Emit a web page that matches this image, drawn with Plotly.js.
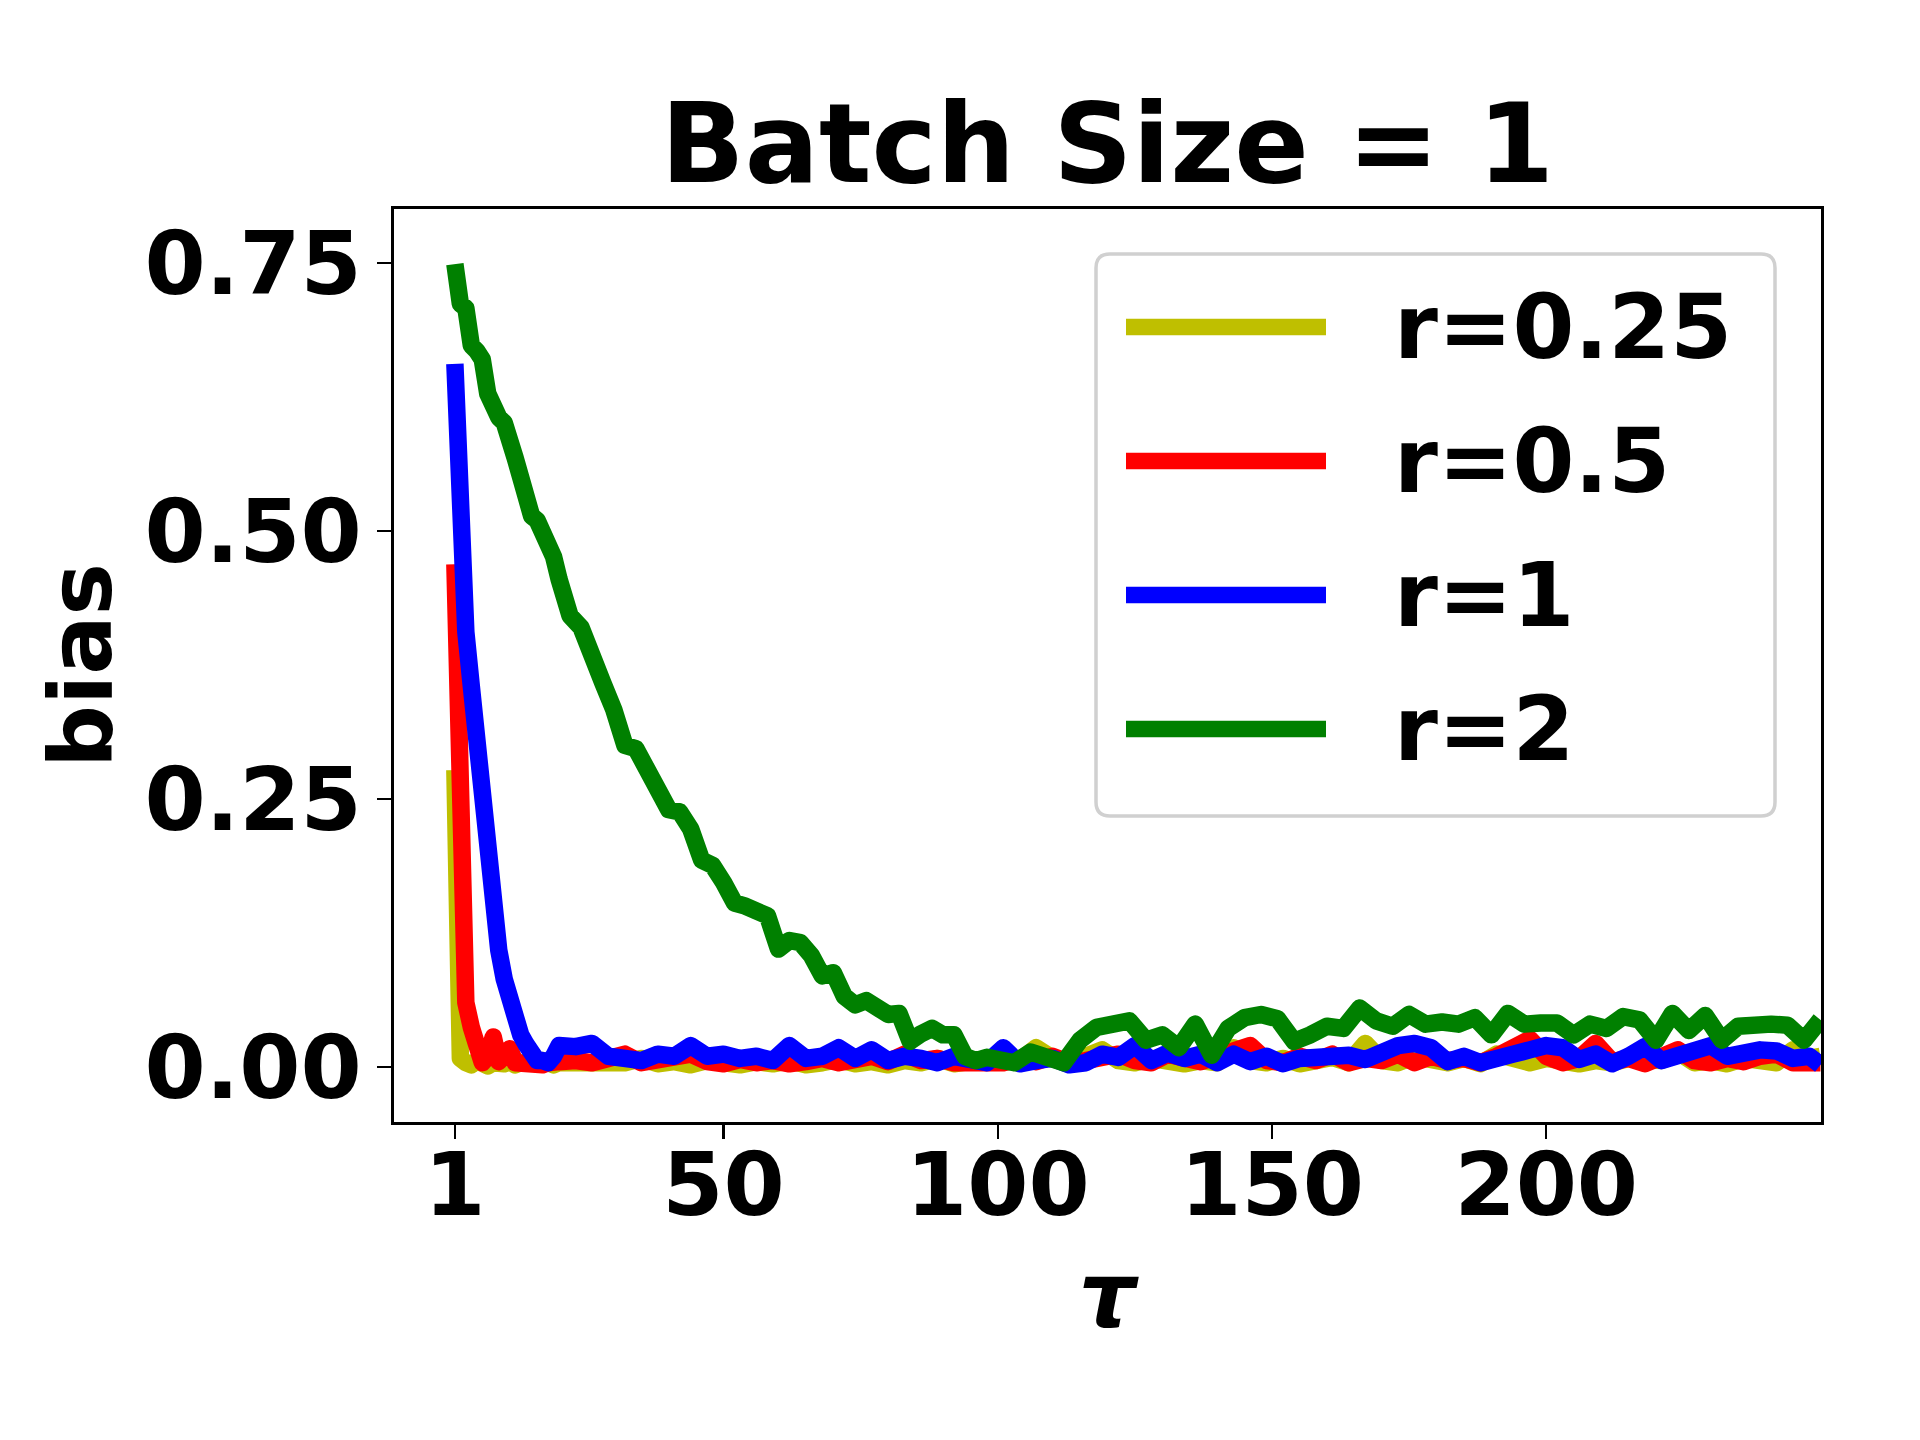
<!DOCTYPE html>
<html>
<head>
<meta charset="utf-8">
<script src="https://cdn.plot.ly/plotly-3.0.1.min.js"></script>
<style>
  html, body { margin: 0; padding: 0; background: #fff; }
  #chart { width: 1920px; height: 1440px; }
  #chart .scatterlayer path.js-line { stroke-linejoin: round; }
</style>
</head>
<body>
<div id="chart"></div>
<script>
(function(){
  // --------- Data ---------
  // shared tau grid for r=0.25, r=0.5, r=1
  const tau = [
    1, 2, 3, 4, 5, 6, 7, 8, 9, 10, 11, 12, 13, 14, 15, 16, 17, 18, 19, 20,
    23, 26, 29, 32, 35, 38, 41, 44, 47, 50,
    53, 56, 59, 62, 65, 68, 71, 74, 77, 80,
    83, 86, 89, 92, 95, 98, 101, 104, 107, 110,
    113, 116, 119, 122, 125, 128, 131, 134, 137, 140,
    143, 146, 149, 152, 155, 158, 161, 164, 167, 170,
    173, 176, 179, 182, 185, 188, 191, 194, 197, 200,
    203, 206, 209, 212, 215, 218, 221, 224, 227, 230,
    233, 236, 239, 242, 245, 248,
    250
  ];

  // finer tau grid for r=2 (its slow decay shows more detail)
  const tauR2 = [
    1, 2, 3, 4, 5, 6, 7, 8, 9, 10, 11, 12, 13, 14, 15, 16, 17, 18, 19, 20,
    22, 24, 26, 28, 30, 32, 34, 36, 38, 40,
    42, 44, 46, 48, 50, 52, 54, 56, 58, 60,
    62, 64, 66, 68, 70, 72, 74, 76, 78, 80,
    82, 84, 86, 88, 90, 92, 94, 96, 98, 100,
    103, 106, 109, 112, 115, 118, 121, 124, 127, 130,
    133, 136, 139, 142, 145, 148, 151, 154, 157, 160,
    163, 166, 169, 172, 175, 178, 181, 184, 187, 190,
    193, 196, 199, 202, 205, 208, 211, 214, 217, 220,
    223, 226, 229, 232, 235, 238, 241, 244, 247, 250
  ];

  const biasR025 = [
    0.277, 0.008, 0.004, 0.002, 0.006, 0.003, 0.001, 0.004, 0.002, 0.003,
    0.005, 0.002, 0.004, 0.003, 0.002, 0.004, 0.006, 0.003, 0.002, 0.004,
    0.003, 0.006, 0.002, 0.004, 0.008, 0.003, 0.005, 0.002, 0.006, 0.004,
    0.002, 0.005, 0.003, 0.006, 0.002, 0.004, 0.007, 0.003, 0.005, 0.002,
    0.006, 0.004, 0.008, 0.003, 0.005, 0.008, 0.010, 0.006, 0.018, 0.008,
    0.004, 0.010, 0.016, 0.006, 0.004, 0.008, 0.005, 0.003, 0.006, 0.004,
    0.018, 0.006, 0.004, 0.008, 0.003, 0.005, 0.009, 0.004, 0.022, 0.006,
    0.004, 0.010, 0.006, 0.004, 0.008, 0.003, 0.012, 0.006, 0.004, 0.008,
    0.005, 0.003, 0.006, 0.004, 0.008, 0.005, 0.006, 0.014, 0.004, 0.006,
    0.003, 0.008, 0.005, 0.004, 0.016, 0.008,
    0.010
  ];

  const biasR05 = [
    0.469, 0.270, 0.060, 0.037, 0.016, 0.004, 0.010, 0.028, 0.005, 0.015,
    0.017, 0.004, 0.003, 0.002, 0.004, 0.003, 0.002, 0.004, 0.003, 0.005,
    0.006, 0.004, 0.008, 0.012, 0.004, 0.006, 0.008, 0.012, 0.005, 0.003,
    0.007, 0.004, 0.006, 0.003, 0.005, 0.008, 0.004, 0.006, 0.010, 0.005,
    0.012, 0.006, 0.008, 0.004, 0.003, 0.006, 0.004, 0.008, 0.005, 0.010,
    0.004, 0.006, 0.008, 0.012, 0.006, 0.004, 0.012, 0.008, 0.005, 0.010,
    0.014, 0.020, 0.006, 0.004, 0.010, 0.006, 0.012, 0.004, 0.008, 0.006,
    0.012, 0.004, 0.010, 0.006, 0.008, 0.004, 0.010, 0.016, 0.026, 0.010,
    0.004, 0.008, 0.022, 0.005, 0.008, 0.003, 0.010, 0.016, 0.006, 0.004,
    0.008, 0.005, 0.010, 0.012, 0.004, 0.006,
    0.004
  ];

  const biasR1 = [
    0.656, 0.500, 0.406, 0.355, 0.298, 0.243, 0.187, 0.145, 0.109, 0.082,
    0.059, 0.044, 0.030, 0.021, 0.012, 0.006, 0.006, 0.004, 0.010, 0.020,
    0.019, 0.022, 0.010, 0.009, 0.006, 0.012, 0.010, 0.020, 0.010, 0.012,
    0.008, 0.010, 0.006, 0.020, 0.008, 0.010, 0.018, 0.008, 0.016, 0.006,
    0.010, 0.008, 0.004, 0.010, 0.006, 0.004, 0.018, 0.003, 0.006, 0.008,
    0.002, 0.004, 0.012, 0.009, 0.020, 0.006, 0.013, 0.008, 0.012, 0.004,
    0.012, 0.005, 0.010, 0.003, 0.008, 0.010, 0.013, 0.011, 0.007, 0.014,
    0.020, 0.022, 0.018, 0.005, 0.010, 0.004, 0.010, 0.012, 0.016, 0.020,
    0.018, 0.007, 0.012, 0.003, 0.010, 0.019, 0.006, 0.010, 0.012, 0.020,
    0.010, 0.014, 0.016, 0.015, 0.008, 0.010,
    0.002
  ];

  const biasR2 = [
    0.749, 0.712, 0.708, 0.673, 0.668, 0.660, 0.628, 0.612, 0.606, 0.601,
    0.588, 0.568, 0.550, 0.525, 0.514, 0.510, 0.500, 0.490, 0.476, 0.455,
    0.421, 0.410, 0.380, 0.358, 0.333, 0.300, 0.297, 0.278, 0.257, 0.240,
    0.238, 0.222, 0.193, 0.188, 0.172, 0.153, 0.150, 0.145, 0.141, 0.110,
    0.118, 0.116, 0.104, 0.085, 0.088, 0.066, 0.058, 0.062, 0.053, 0.049,
    0.050, 0.024, 0.031, 0.036, 0.030, 0.030, 0.010, 0.006, 0.009, 0.008,
    0.004, 0.014, 0.008, 0.004, 0.025, 0.037, 0.040, 0.043, 0.025, 0.030,
    0.018, 0.040, 0.011, 0.036, 0.046, 0.049, 0.045, 0.024, 0.030, 0.038,
    0.036, 0.055, 0.043, 0.038, 0.049, 0.040, 0.042, 0.040, 0.046, 0.030,
    0.050, 0.040, 0.041, 0.041, 0.030, 0.040, 0.036, 0.047, 0.044, 0.025,
    0.050, 0.034, 0.048, 0.025, 0.038, 0.040, 0.040, 0.039, 0.025, 0.044
  ];

  const seriesNames  = ['r=0.25', 'r=0.5', 'r=1', 'r=2'];
  const seriesColors = ['#bfbf00', '#ff0000', '#0000ff', '#008000'];
  const seriesX      = [tau, tau, tau, tauR2];
  const seriesValues = [biasR025, biasR05, biasR1, biasR2];

  const xTicks = [1, 50, 100, 150, 200];
  const yTicks = [0, 0.25, 0.5, 0.75];

  // --------- Geometry ---------
  const W = 1920, H = 1440;
  const M = {l: 394, r: 99, t: 209, b: 318};
  const PW = W - M.l - M.r, PH = H - M.t - M.b;
  const FONT = '"DejaVu Sans", "Liberation Sans", sans-serif';
  const LW = 17.5;

  // pixel -> paper helpers (for the hand-made legend box)
  const px = v => (v - M.l) / PW;
  const py = v => (H - M.b - v) / PH;

  const traces = seriesValues.map((vals, i) => ({
    x: seriesX[i], y: vals, type: 'scatter', mode: 'lines',
    name: seriesNames[i],
    line: {color: seriesColors[i], width: LW},
    hoverinfo: 'skip', showlegend: false
  }));

  // Legend: rounded box + sample lines + labels
  const bx0 = 1096, bx1 = 1775, by0 = 254, by1 = 816, rr = 14;
  const boxPath =
    `M${px(bx0 + rr)},${py(by0)} L${px(bx1 - rr)},${py(by0)} ` +
    `Q${px(bx1)},${py(by0)} ${px(bx1)},${py(by0 + rr)} ` +
    `L${px(bx1)},${py(by1 - rr)} Q${px(bx1)},${py(by1)} ${px(bx1 - rr)},${py(by1)} ` +
    `L${px(bx0 + rr)},${py(by1)} Q${px(bx0)},${py(by1)} ${px(bx0)},${py(by1 - rr)} ` +
    `L${px(bx0)},${py(by0 + rr)} Q${px(bx0)},${py(by0)} ${px(bx0 + rr)},${py(by0)} Z`;

  const shapes = [{
    type: 'path', xref: 'paper', yref: 'paper', path: boxPath,
    line: {color: '#d0d0d0', width: 3.5}, fillcolor: 'rgba(255,255,255,0.8)', layer: 'above'
  }];
  const annotations = [];
  const rowY = [327, 461, 595, 729];
  seriesNames.forEach((name, i) => {
    shapes.push({
      type: 'line', xref: 'paper', yref: 'paper',
      x0: px(1126), x1: px(1326), y0: py(rowY[i]), y1: py(rowY[i]),
      line: {color: seriesColors[i], width: 16.5}, layer: 'above'
    });
    annotations.push({
      xref: 'paper', yref: 'paper', x: px(1392), y: py(rowY[i]),
      xanchor: 'left', yanchor: 'middle', showarrow: false, text: name,
      font: {family: FONT, size: 89, weight: 'bold', color: 'black'}
    });
  });

  const tickFont = {family: FONT, size: 88, weight: 'bold', color: 'black'};
  const axisBase = {
    ticks: 'outside', ticklen: 14, tickwidth: 2.5, tickcolor: 'black',
    showline: true, linecolor: 'black', linewidth: 2.7, mirror: true,
    showgrid: false, zeroline: false, tickfont: tickFont, automargin: false
  };

  const layout = {
    width: W, height: H, margin: M,
    paper_bgcolor: 'white', plot_bgcolor: 'white', showlegend: false,
    title: {
      text: 'Batch Size = 1', x: 0.5, xref: 'paper', xanchor: 'center',
      y: 1 - 143 / H, yref: 'container', yanchor: 'middle',
      font: {family: FONT, size: 110, weight: 'bold', color: 'black'}
    },
    xaxis: Object.assign({}, axisBase, {
      range: [-10.1, 250.1], tickmode: 'array', tickvals: xTicks,
      ticktext: xTicks.map(String), ticklabelstandoff: -29,
      title: {text: 'τ', standoff: 29,
              font: {family: FONT, size: 90, weight: 'bold', style: 'italic', color: 'black'}}
    }),
    yaxis: Object.assign({}, axisBase, {
      range: [-0.0513, 0.8004], tickmode: 'array', tickvals: yTicks,
      ticktext: yTicks.map(v => v.toFixed(2)), ticklabelstandoff: -2,
      title: {text: 'bias', standoff: 4, font: tickFont}
    }),
    shapes: shapes, annotations: annotations
  };

  Plotly.newPlot('chart', traces, layout, {staticPlot: true, displayModeBar: false});
})();
</script>
</body>
</html>
